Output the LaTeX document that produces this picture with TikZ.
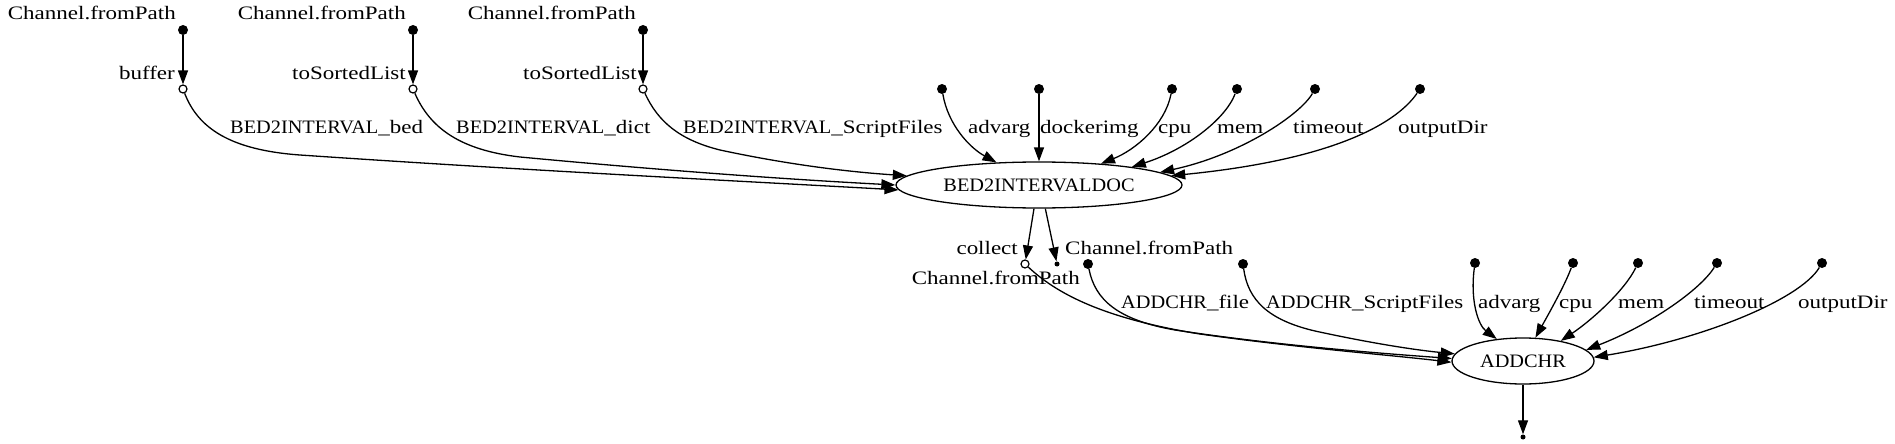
\documentclass[tikz,border=0pt]{standalone}
\usepackage{fontspec}
\setmainfont[FakeStretch=1.21]{Liberation Serif}
\newfontfamily\capsfont[FakeStretch=1.07]{Liberation Serif}
\usetikzlibrary{shapes.geometric,arrows.meta}
\newcommand\uc[1]{{\capsfont #1}}
\begin{document}
\begin{tikzpicture}[x=1pt,y=-1pt,
  font=\fontsize{19pt}{23pt}\selectfont,
  edge/.style={line width=1.3pt,-{Triangle[length=14pt,width=10pt]}},
  bigdot/.style={circle,fill=black,inner sep=0pt,minimum size=10pt},
  ocirc/.style={circle,draw=black,fill=white,line width=1.2pt,inner sep=0pt,minimum size=8pt},
  tinydot/.style={circle,fill=black,inner sep=0pt,minimum size=5pt},
  proc/.style={ellipse,draw=black,line width=1.3pt,inner sep=0pt,minimum height=46pt},
  lab/.style={inner sep=0pt}]
\fill[white] (0,0) rectangle (1895,444);
\useasboundingbox (0,0) rectangle (1895,444);

% ---- top row sources ----
\node[bigdot] (d1) at (183,30) {};
\node[bigdot] (d2) at (413,30) {};
\node[bigdot] (d3) at (643,30) {};
\node[ocirc] (c1) at (183,89) {};
\node[ocirc] (c2) at (413,89) {};
\node[ocirc] (c3) at (643,89) {};

\node[lab,anchor=base east] (t1) at (176,20) {Channel.fromPath};
\node[lab,anchor=base east] (t2) at (406,20) {Channel.fromPath};
\node[lab,anchor=base east] (t3) at (636,20) {Channel.fromPath};
\node[lab,anchor=base east] (o1) at (175,79) {buffer};
\node[lab,anchor=base east] (o2) at (406,79) {toSortedList};
\node[lab,anchor=base east] (o3) at (637,79) {toSortedList};

% ---- BED2INTERVALDOC ----
\node[proc,minimum width=286pt] (doc) at (1039,185) {\uc{BED2INTERVALDOC}};
\node[bigdot] (pa) at (942,89) {};
\node[bigdot] (pd) at (1039,89) {};
\node[bigdot] (pc) at (1172,89) {};
\node[bigdot] (pm) at (1237,89) {};
\node[bigdot] (pt) at (1315,89) {};
\node[bigdot] (po) at (1420,89) {};

\draw[edge] (d1) -- (c1);
\draw[edge] (d2) -- (c2);
\draw[edge] (d3) -- (c3);

\draw[edge] (c1) .. controls (198,128) and (230,150) .. (300,155)
  .. controls (520,170) and (720,180) .. (doc.182);
\draw[edge] (c2) .. controls (430,128) and (460,150) .. (520,157)
  .. controls (680,172) and (800,180) .. (doc.180);
\draw[edge] (c3) .. controls (658,122) and (680,140) .. (720,150)
  .. controls (790,165) and (850,172) .. (doc.176);

\draw[edge] (pa) .. controls (948,125) and (970,148) .. (doc.152);
\draw[edge] (pd) -- (doc);
\draw[edge] (pc) .. controls (1165,125) and (1135,150) .. (doc.19);
\draw[edge] (pm) .. controls (1225,120) and (1185,150) .. (doc.11);
\draw[edge] (pt) .. controls (1300,115) and (1240,155) .. (doc.6);
\draw[edge] (po) .. controls (1395,125) and (1330,160) .. (doc.4);

\node[lab,anchor=base west] (e1) at (230,133) {\uc{BED2INTERVAL}\_bed};
\node[lab,anchor=base west] (e2) at (456,133) {\uc{BED2INTERVAL}\_dict};
\node[lab,anchor=base west] (e3) at (683,133) {\uc{BED2INTERVAL}\_ScriptFiles};
\node[lab,anchor=base west] (e4) at (968,133) {advarg};
\node[lab,anchor=base west] (e5) at (1040,133) {dockerimg};
\node[lab,anchor=base west] (e6) at (1158,133) {cpu};
\node[lab,anchor=base west] (e7) at (1217,133) {mem};
\node[lab,anchor=base west] (e8) at (1293,133) {timeout};
\node[lab,anchor=base west] (e9) at (1398,133) {outputDir};

% ---- middle ----
\node[ocirc] (cc) at (1025,264) {};
\node[tinydot] (sd) at (1057,264) {};
\node[bigdot] (af) at (1088,264) {};
\node[bigdot] (as) at (1243,264) {};
\draw[edge] (doc.258) -- (cc);
\draw[edge] (doc.285) -- (sd);

\node[lab,anchor=base east] (m1) at (1018,254) {collect};
\node[lab,anchor=base west] (m2) at (1065,254) {Channel.fromPath};
\node[lab,anchor=base east] (m3) at (1080,284) {Channel.fromPath};

% ---- ADDCHR ----
\node[proc,minimum width=142pt] (addchr) at (1523,361) {\uc{ADDCHR}};
\node[bigdot] (qa) at (1475,263) {};
\node[bigdot] (qc) at (1573,263) {};
\node[bigdot] (qm) at (1638,263) {};
\node[bigdot] (qt) at (1717,263) {};
\node[bigdot] (qo) at (1822,263) {};
\node[tinydot] (out) at (1523,437) {};

\draw[edge] (cc) .. controls (1055,292) and (1100,318) .. (1200,334)
  .. controls (1300,348) and (1390,355) .. (addchr.181);
\draw[edge] (af) .. controls (1095,300) and (1118,320) .. (1175,330)
  .. controls (1280,346) and (1390,354) .. (addchr.178);
\draw[edge] (as) .. controls (1248,300) and (1268,320) .. (1315,331)
  .. controls (1370,343) and (1415,350) .. (addchr.174);

\draw[edge] (qa) .. controls (1470,300) and (1478,325) .. (addchr.140);
\draw[edge] (qc) .. controls (1565,285) and (1548,315) .. (addchr.62);
\draw[edge] (qm) .. controls (1625,290) and (1592,320) .. (addchr.28);
\draw[edge] (qt) .. controls (1700,290) and (1650,325) .. (addchr.10);
\draw[edge] (qo) .. controls (1800,300) and (1700,340) .. (addchr.3);
\draw[edge] (addchr) -- (out);

\node[lab,anchor=base west] (f1) at (1121,308) {\uc{ADDCHR}\_file};
\node[lab,anchor=base west] (f2) at (1266,308) {\uc{ADDCHR}\_ScriptFiles};
\node[lab,anchor=base west] (f3) at (1478,308) {advarg};
\node[lab,anchor=base west] (f4) at (1559,308) {cpu};
\node[lab,anchor=base west] (f5) at (1618,308) {mem};
\node[lab,anchor=base west] (f6) at (1694,308) {timeout};
\node[lab,anchor=base west] (f7) at (1798,308) {outputDir};
\end{tikzpicture}
\end{document}
